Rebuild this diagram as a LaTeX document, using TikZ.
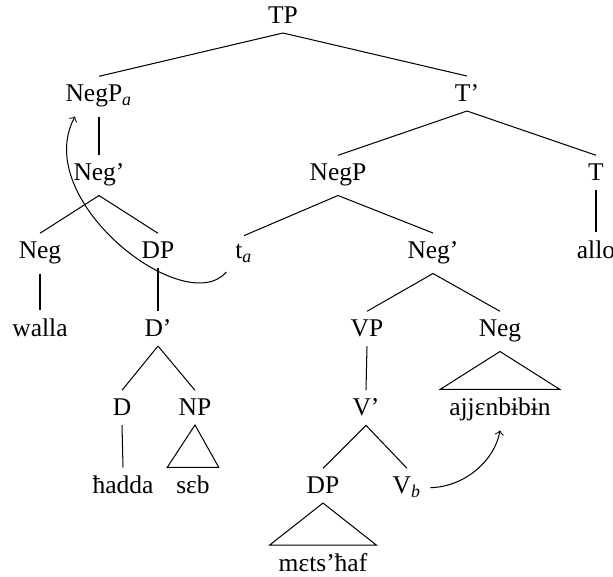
\documentclass[tikz,border=0pt]{standalone}
\usepackage{fontspec}
\setmainfont{Liberation Serif}
\usepackage{tikz}
\newcommand{\subidx}[1]{\textsubscript{\textit{#1}}}

\begin{document}
\begin{tikzpicture}[x=0.3922pt,y=-0.3922pt,
        lab/.style={anchor=base}]
        \useasboundingbox (0,0) rectangle (613,577);
        % labels, one row per level
        \node[lab] (tp) at (283,24) {TP};
        \node[lab] (negpa) at (99,102) {NegP\subidx{a}};
        \node[lab] (tbar) at (467,102) {T'};
        \node[lab] (negbara) at (99,181) {Neg'};
        \node[lab] (negp) at (338,181) {NegP};
        \node[lab] (t) at (596,181) {T};
        \node[lab] (neg1) at (40,259) {Neg};
        \node[lab] (dp1) at (158,259) {DP};
        \node[lab] (ta) at (244,259) {t\subidx{a}};
        \node[lab] (negbarb) at (433,259) {Neg'};
        \node[lab] (allo) at (596,259) {allo};
        \node[lab] (walla) at (40,337) {walla};
        \node[lab] (dbar) at (158,337) {D'};
        \node[lab] (vp) at (367,337) {VP};
        \node[lab] (neg2) at (500,337) {Neg};
        \node[lab] (d) at (122,416) {D};
        \node[lab] (np) at (195,416) {NP};
        \node[lab] (vbar) at (366,416) {V'};
        \node[lab] (ajj) at (500,416) {ajjɛnbɨbɨn};
        \node[lab] (hadda) at (123,494) {ħadda};
        \node[lab] (seb) at (193,494) {sɛb};
        \node[lab] (dp2) at (323,494) {DP};
        \node[lab] (vb) at (407,494) {V\subidx{b}};
        \node[lab] (mets) at (323,572) {mɛts'ħaf};
        % branches
        \foreach \a/\b in {tp/negpa,tp/tbar,negpa/negbara,negbara/neg1,negbara/dp1,
            tbar/negp,tbar/t,negp/ta,negp/negbarb,t/allo,neg1/walla,dp1/dbar,
            negbarb/vp,negbarb/neg2,dbar/d,dbar/np,vp/vbar,d/hadda,vbar/dp2,vbar/vb}{
            \draw (\a.south)--(\b.north);
        }
        % roofs
        \foreach \a/\b in {np/seb,neg2/ajj,dp2/mets}{
            \draw (\a.south)--(\b.north west)--(\b.north east)--cycle;
        }
        % movement
        \draw[->] (ta.south west) .. controls (185,320) and (30,200) .. (negpa.220);
        \draw[->] (vb.east) .. controls (465,487) and (495,460) .. (ajj.south);
    \end{tikzpicture}
\end{document}
